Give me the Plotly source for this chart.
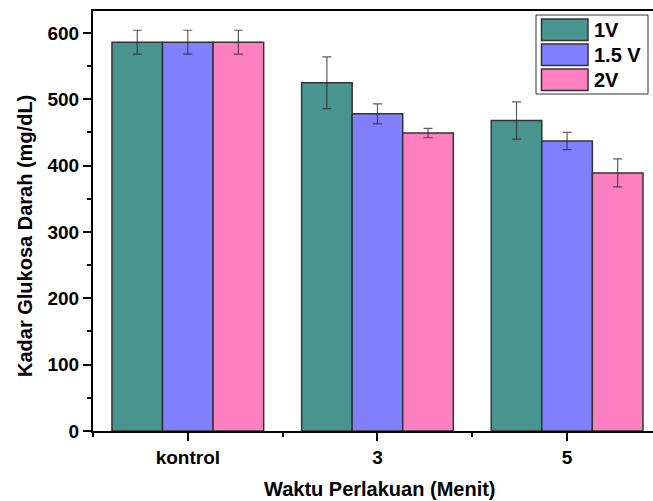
import plotly.graph_objects as go

categories = ["kontrol", "3", "5"]
series_names = ["1V", "1.5 V", "2V"]
values_1v = [586, 525, 468]
values_15v = [586, 478, 437]
values_2v = [586, 449, 389]
err_1v = [18, 39, 28]
err_15v = [18, 15, 13]
err_2v = [18, 7, 21]
colors = ["#4A948F", "#8080FF", "#FF80C0"]

W, H = 653, 501
L, R, T, B = 93, 0, 11, 70
PW, PH = W - L - R, H - T - B

def px(x):
    return (x - L) / PW

def py(y):
    return (H - B - y) / PH

FONT = "Liberation Sans, Arial, sans-serif"
xpos = list(range(len(categories)))

fig = go.Figure()
for name, vals, errs, col in zip(series_names,
                                 [values_1v, values_15v, values_2v],
                                 [err_1v, err_15v, err_2v], colors):
    fig.add_trace(go.Bar(
        x=xpos, y=vals, name=name,
        marker=dict(color=col, line=dict(color="#333333", width=1.5)),
        error_y=dict(type="data", array=errs, visible=True,
                     color="rgba(40,40,40,0.75)", thickness=1.2, width=4.5),
        showlegend=False,
    ))

fig.update_layout(
    width=W, height=H,
    margin=dict(l=L, r=R, t=T, b=B),
    plot_bgcolor="white", paper_bgcolor="white",
    barmode="group", bargap=0.2, bargroupgap=0,
    font=dict(family=FONT, size=19, color="black"),
    xaxis=dict(
        range=[-0.5, 2.453], tickvals=xpos, ticktext=categories,
        showline=True, linecolor="black", linewidth=2, mirror=True,
        ticks="outside", ticklen=8, tickwidth=2, tickcolor="black",
        showgrid=False, zeroline=False,
        tickfont=dict(family=FONT, size=19, weight="bold"),
        minor=dict(tick0=-0.5, dtick=1, ticks="outside", ticklen=4,
                   tickwidth=2, tickcolor="black", showgrid=False),
    ),
    yaxis=dict(
        range=[0, 633], dtick=100, tick0=0,
        showline=True, linecolor="black", linewidth=2,
        ticks="outside", ticklen=8, tickwidth=2, tickcolor="black",
        showgrid=False, zeroline=False,
        tickfont=dict(family=FONT, size=19, weight="bold"),
        minor=dict(dtick=50, ticks="outside", ticklen=4, tickwidth=2,
                   tickcolor="black", showgrid=False),
    ),
)

# axis titles
fig.add_annotation(text="Waktu Perlakuan (Menit)", xref="paper", yref="paper",
                   x=px(380), y=py(489), xanchor="center", yanchor="middle",
                   showarrow=False,
                   font=dict(family=FONT, size=20, weight="bold"))
fig.add_annotation(text="Kadar Glukosa Darah (mg/dL)", xref="paper", yref="paper",
                   x=px(25), y=py(236), xanchor="center", yanchor="middle",
                   textangle=-90, showarrow=False,
                   font=dict(family=FONT, size=20, weight="bold"))

# legend box
fig.add_shape(type="rect", xref="paper", yref="paper",
              x0=px(536), x1=px(648), y0=py(15), y1=py(94),
              line=dict(color="#333333", width=1), fillcolor="white", layer="above")
row_tops = [19, 44, 69]
for name, col, top in zip(series_names, colors, row_tops):
    fig.add_shape(type="rect", xref="paper", yref="paper",
                  x0=px(541.5), x1=px(588), y0=py(top), y1=py(top + 21.5),
                  line=dict(color="#333333", width=1.5), fillcolor=col, layer="above")
    fig.add_annotation(text=name, xref="paper", yref="paper",
                       x=px(592), y=py(top + 11), xanchor="left", yanchor="middle",
                       showarrow=False,
                       font=dict(family=FONT, size=20, weight="bold"))

fig.write_html("out.html",
               config={"displayModeBar": False},
               post_script="document.body.style.margin='0';document.body.style.overflow='hidden';")
